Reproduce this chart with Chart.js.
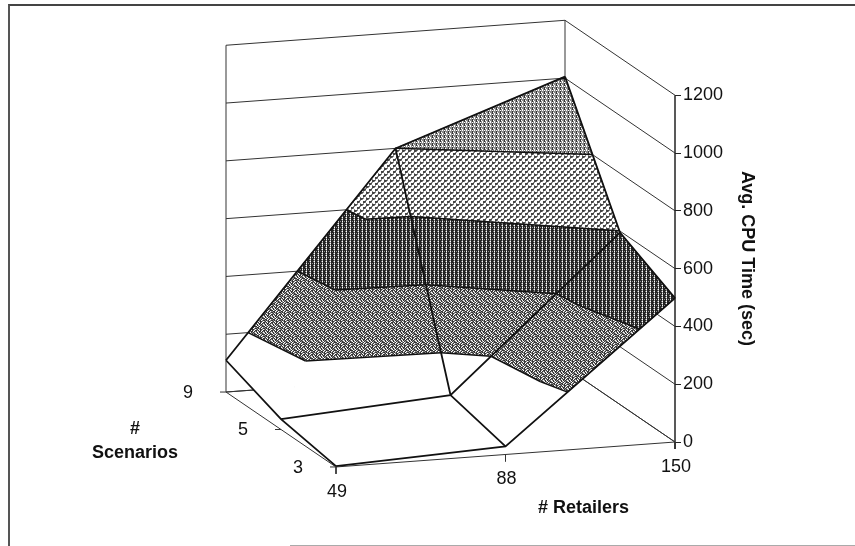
<!DOCTYPE html>
<html>
<head>
<meta charset="utf-8">
<title>Avg. CPU Time</title>
<script src="https://cdn.jsdelivr.net/npm/chart.js@4"></script>
<style>
  html, body { margin: 0; background: #fff; }
  #wrap { position: relative; width: 855px; height: 546px; overflow: hidden; }
  #frame { position: absolute; left: 8px; top: 4px; right: 0; bottom: 0; border-top: 2px solid #444; border-left: 2px solid #555; }
  #bottomEdge { position: absolute; left: 290px; right: 0; bottom: 0; height: 1px; background: #aaa; }
</style>
</head>
<body>
<div id="wrap">
  <div id="frame"></div>
  <div id="bottomEdge"></div>
  <canvas id="surfaceChart" width="855" height="546" style="position:absolute;left:0;top:0"></canvas>
</div>
<script>
// Data
const retailers = ['49', '88', '150'];
const scenarios = ['3', '5', '9'];
const cpuAt3 = [3, 28, 498];
const cpuAt5 = [36, 76, 595];
const cpuAt9 = [110, 800, 1005];
const zTicks = [0, 200, 400, 600, 800, 1000, 1200];

const cpu = [cpuAt3, cpuAt5, cpuAt9];

// Excel splits each grid cell along one diagonal: 'up' is low-left to high-right
const cellSplits = [['up', 'up'], ['up', 'down']];

// Oblique view of the box, in x units and cpu units
const view = { x0: 336, xPerRetailer: 339, xPerScenario: -110, yPerRetailer: 86.4, yPerScenario: 259.3 };

function project(u, v, z) {
    return {
        x: view.x0 + view.xPerRetailer * u + view.xPerScenario * v,
        y: z - view.yPerRetailer * (1 - u) + view.yPerScenario * v
    };
}

// Halftone fills, they look like the scanned bands
function halftone(rows, ink) {
    const c = document.createElement('canvas');
    c.width = rows[0].length;
    c.height = rows.length;
    const g = c.getContext('2d');
    g.fillStyle = '#fff';
    g.fillRect(0, 0, c.width, c.height);
    rows.forEach((row, y) => {
        [...row].forEach((ch, x) => {
            if (ch === '#') { g.fillStyle = ink; g.fillRect(x, y, 1, 1); }
            if (ch === '+') { g.fillStyle = '#8a8a8a'; g.fillRect(x, y, 1, 1); }
        });
    });
    return g.createPattern(c, 'repeat');
}

const bands = [
    { lo: 0, hi: 200, fill: '#ffffff' },
    { lo: 200, hi: 400, fill: halftone(['#+#+#.+#', '+#.+##+.', '#+#.#+.#', '#.+##.#+', '+#.#+#+.', '.#+.#+#+', '#.+#.+##', '+##.+#.+'], '#333') },
    { lo: 400, hi: 600, fill: halftone(['##+#', '#+.#', '##+#', '#+.#', '##+#', '+#.#'], '#222') },
    { lo: 600, hi: 800, fill: halftone(['###+..', '##+...', '+....+', '...###', '...##+', '+..+..'], '#444') },
    { lo: 800, hi: 1000, fill: halftone(['#.++', '#+.+', '.+.+', '#+++'], '#333') },
    { lo: 1000, hi: 1200, fill: '#777777' }
];

function vertex(i, j) {
    return { u: i / (retailers.length - 1), v: j / (scenarios.length - 1), z: cpu[j][i] };
}

function cellTriangles(i, j) {
    const a = vertex(i, j), b = vertex(i + 1, j), c = vertex(i + 1, j + 1), d = vertex(i, j + 1);
    return cellSplits[i][j] === 'up' ? [[a, b, c], [a, c, d]] : [[a, b, d], [b, c, d]];
}

function lerp(p, q, level) {
    const t = (level - p.z) / (q.z - p.z);
    return { u: p.u + (q.u - p.u) * t, v: p.v + (q.v - p.v) * t, z: level };
}

// clip a polygon against one height, keeping above or below it
function clipAt(poly, level, keepAbove) {
    const inside = p => keepAbove ? p.z >= level : p.z <= level;
    const out = [];
    poly.forEach((p, k) => {
        const q = poly[(k + 1) % poly.length];
        if (inside(p)) out.push(p);
        if (inside(p) !== inside(q)) out.push(lerp(p, q, level));
    });
    return out;
}

function contourSegment(tri, level) {
    const pts = [];
    tri.forEach((p, k) => {
        const q = tri[(k + 1) % 3];
        if ((p.z < level) !== (q.z < level)) pts.push(lerp(p, q, level));
    });
    return pts.length === 2 ? pts : null;
}

const toXY = p => project(p.u, p.v, p.z);
const datasets = [];

function addLine(points, color, width) {
    datasets.push({ data: points, showLine: true, pointRadius: 0, borderColor: color, borderWidth: width, fill: false, tension: 0, clip: false, order: datasets.length });
}

function addPolygon(points, fill) {
    datasets.push({ data: points.concat(points[0]), showLine: true, pointRadius: 0, borderColor: fill, backgroundColor: fill, borderWidth: 0.8, fill: 'shape', tension: 0, clip: false, order: datasets.length });
}

const ink = '#111';
const triangles = [];
for (let i = 0; i < retailers.length - 1; i++) {
    for (let j = 0; j < scenarios.length - 1; j++) {
        triangles.push(...cellTriangles(i, j));
    }
}

// mesh lines along the grid, on top
retailers.forEach((r, i) => addLine(scenarios.map((s, j) => toXY(vertex(i, j))), ink, 1.8));
scenarios.forEach((s, j) => addLine(retailers.map((r, i) => toXY(vertex(i, j))), ink, 1.8));

// band edges
bands.slice(1).forEach(b => {
    triangles.forEach(tri => {
        const seg = contourSegment(tri, b.lo);
        if (seg) addLine(seg.map(toXY), ink, 1.5);
    });
});

// band fills, listed before the walls so they cover them
bands.forEach(b => {
    triangles.forEach(tri => {
        let poly = clipAt(tri, b.lo, true);
        if (poly.length) poly = clipAt(poly, b.hi, false);
        if (poly.length > 2) addPolygon(poly.map(toXY), b.fill);
    });
});

// floor edges and ticks
const wall = '#333';
addLine([project(0, 0, 0), project(1, 0, 0)], wall, 1);
addLine([project(0, 0, 0), project(0, 1, 0)], wall, 1);
addLine([project(0, 1, 0), project(1, 1, 0)], wall, 1);
addLine([project(1, 1, 0), project(1, 0, 0)], wall, 1);
retailers.forEach((r, i) => {
    const p = project(i / 2, 0, 0);
    addLine([p, { x: p.x, y: p.y - 24 }], wall, 1);
});
scenarios.forEach((s, j) => {
    const p = project(0, j / 2, 0);
    addLine([p, { x: p.x - 6, y: p.y }], wall, 1);
});

// gridlines on the two walls, the wall uprights and the cpu axis line
zTicks.forEach(z => {
    addLine([project(0, 1, z), project(1, 1, z), project(1, 0, z)], wall, 1);
});
addLine([project(0, 1, 0), project(0, 1, 1200)], '#555', 1.2);
addLine([project(1, 1, 0), project(1, 1, 1200)], '#555', 1.2);
addLine([project(1, 0, -24), project(1, 0, 1200)], '#222', 1.5);

// tick labels of the two floor axes and their titles, placed from the scales
const floorLabels = {
    id: 'floorLabels',
    afterDraw(chart) {
        const { ctx, scales: { x, y } } = chart;
        const put = (text, p, dx, dy, bold) => {
            ctx.font = (bold ? 'bold ' : '') + '18px "Liberation Sans", Arial, sans-serif';
            ctx.fillStyle = '#111';
            ctx.textAlign = 'center';
            ctx.textBaseline = 'middle';
            ctx.fillText(text, x.getPixelForValue(p.x) + dx, y.getPixelForValue(p.y) + dy);
        };
        retailers.forEach((r, i) => put(r, project(i / 2, 0, 0), 1, 25, false));
        scenarios.forEach((s, j) => put(s, project(0, j / 2, 0), -38, 1, false));
        put('# Retailers', project(0.73, 0, 0), 0, 59, true);
        put('#', project(0, 0.5, 0), -146, 0, true);
        put('Scenarios', project(0, 0.5, 0), -146, 24, true);
    }
};

new Chart(document.getElementById('surfaceChart'), {
    type: 'scatter',
    data: { datasets: datasets },
    options: {
        responsive: false,
        animation: false,
        layout: { padding: { top: 75, bottom: 104, left: 0, right: 97 } },
        plugins: { legend: { display: false }, tooltip: { enabled: false } },
        scales: {
            x: { type: 'linear', min: 0, max: 675, display: false },
            y: {
                type: 'linear',
                position: 'right',
                min: 0,
                max: 1270,
                grid: { drawOnChartArea: false, tickLength: 6, color: '#222' },
                border: { display: false },
                ticks: {
                    stepSize: 200,
                    includeBounds: false,
                    color: '#111',
                    padding: 2,
                    font: { family: '"Liberation Sans", Arial, sans-serif', size: 18 },
                    callback: value => String(value)
                },
                title: {
                    display: true,
                    text: 'Avg. CPU Time (sec)',
                    color: '#111',
                    padding: { top: 0, bottom: 0 },
                    font: { family: '"Liberation Sans", Arial, sans-serif', size: 18, weight: 'bold' }
                },
                afterFit(axis) { axis.width = 83; }
            }
        }
    },
    plugins: [floorLabels]
});
</script>
</body>
</html>
